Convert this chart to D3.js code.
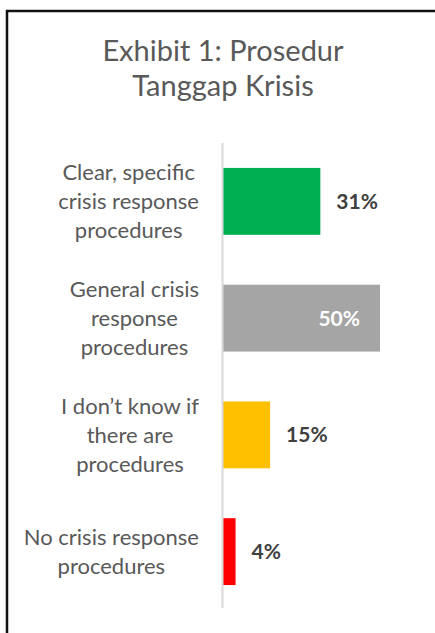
<!DOCTYPE html>
<html>
<head>
<meta charset="utf-8">
<script src="https://cdn.jsdelivr.net/npm/d3@7"></script>
<style>
  body { margin: 0; background: #fff; }
  text { font-family: Lato, "Open Sans", sans-serif; }
</style>
</head>
<body>
<script>
// data
var categories = ["Clear, specific crisis response procedures",
                  "General crisis response procedures",
                  "I don\u2019t know if there are procedures",
                  "No crisis response procedures"];
var catLines = [["Clear, specific", "crisis response", "procedures"],
                ["General crisis", "response", "procedures"],
                ["I don\u2019t know if", "there are", "procedures"],
                ["No crisis response", "procedures"]];
var values = [31, 50, 15, 4];
var colors = ["#00B050", "#A5A5A5", "#FFC000", "#FF0000"];
var titleLines = ["Exhibit 1: Prosedur", "Tanggap Krisis"];

var w = 435;
var h = 633;

var svg = d3.select("body")
  .append("svg")
  .attr("width", w)
  .attr("height", h);

// frame (runs off right / bottom edge like the screenshot)
svg.append("rect")
  .attr("x", 7)
  .attr("y", 11)
  .attr("width", 600)
  .attr("height", 800)
  .attr("fill", "none")
  .attr("stroke", "#111")
  .attr("stroke-width", 2.5);

// title
svg.selectAll(".title")
  .data(titleLines)
  .enter()
  .append("text")
  .attr("class", "title")
  .attr("x", 223)
  .attr("y", function(d, i) { return 61 + i * 35; })
  .attr("text-anchor", "middle")
  .attr("font-size", "29px")
  .attr("fill", "#595959")
  .text(function(d) { return d; });

var x = d3.scaleLinear()
  .domain([0, 50])
  .range([223, 380]);

var y = d3.scaleBand()
  .domain(categories)
  .range([143, 610])
  .paddingInner(0.427)
  .paddingOuter(0.2135);

// bars
svg.selectAll(".bar")
  .data(values)
  .enter()
  .append("rect")
  .attr("class", "bar")
  .attr("x", x(0))
  .attr("y", function(d, i) { return y(categories[i]); })
  .attr("width", function(d) { return x(d) - x(0); })
  .attr("height", y.bandwidth())
  .attr("fill", function(d, i) { return colors[i]; });

// axis line
svg.append("line")
  .attr("x1", x(0) - 0.5)
  .attr("x2", x(0) - 0.5)
  .attr("y1", 143)
  .attr("y2", 608)
  .attr("stroke", "#D9D9D9")
  .attr("stroke-width", 2);

// value labels
svg.selectAll(".val")
  .data(values)
  .enter()
  .append("text")
  .attr("class", "val")
  .attr("x", function(d) { return d >= 50 ? x(d) - 20 : x(d) + 16; })
  .attr("y", function(d, i) { return y(categories[i]) + y.bandwidth() / 2; })
  .attr("dy", "0.36em")
  .attr("text-anchor", function(d) { return d >= 50 ? "end" : "start"; })
  .attr("font-size", "21px")
  .attr("font-weight", "bold")
  .attr("fill", function(d) { return d >= 50 ? "#fff" : "#404040"; })
  .text(function(d) { return d + "%"; });

// category labels: centred lines, block right-aligned
var lh = 29;
var labels = svg.selectAll(".cat")
  .data(catLines)
  .enter()
  .append("text")
  .attr("class", "cat")
  .attr("text-anchor", "middle")
  .attr("font-size", "22px")
  .attr("fill", "#595959");

labels.each(function(lines, i) {
  var t = d3.select(this);
  var cy = y(categories[i]) + y.bandwidth() / 2;
  var y0 = cy - (lines.length - 1) * lh / 2;
  lines.forEach(function(s, j) {
    t.append("tspan").attr("y", y0 + j * lh).attr("dy", "0.36em").text(s);
  });
  var bw = 0;
  t.selectAll("tspan").each(function() { bw = Math.max(bw, this.getComputedTextLength()); });
  t.selectAll("tspan").attr("x", 199 - bw / 2);
});
</script>
</body>
</html>
